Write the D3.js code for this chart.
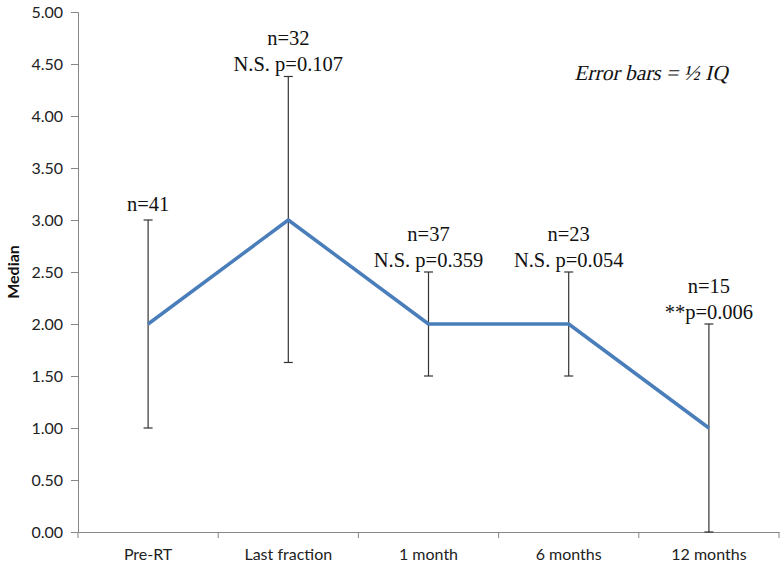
<!DOCTYPE html>
<html>
<head>
<meta charset="utf-8">
<script src="https://cdn.jsdelivr.net/npm/d3@7"></script>
<style>
  body { margin: 0; background: #fff; }
  svg { display: block; }
</style>
</head>
<body>
<svg id="chart" width="784" height="566"></svg>
<script>
const categories = ["Pre-RT", "Last fraction", "1 month", "6 months", "12 months"];
const medians = [2.0, 3.0, 2.0, 2.0, 1.0];
const errLow = [1.0, 1.63, 1.5, 1.5, 0.0];
const errHigh = [3.0, 4.38, 2.5, 2.5, 2.0];
const nLabels = ["n=41", "n=32", "n=37", "n=23", "n=15"];
const pLabels = ["", "N.S. p=0.107", "N.S. p=0.359", "N.S. p=0.054", "**p=0.006"];
const yTicks = [0, 0.5, 1, 1.5, 2, 2.5, 3, 3.5, 4, 4.5, 5];

const svg = d3.select("#chart");
const mLeft = 78, mRight = 779, mTop = 12, mBottom = 532;

const x = d3.scaleBand().domain(categories).range([mLeft, mRight]).paddingInner(0).paddingOuter(0);
const y = d3.scaleLinear().domain([0, 5]).range([mBottom, mTop]);
const cx = c => x(c) + x.bandwidth() / 2;

const axisColor = "#868686";
const tickFont = "Lato, 'Liberation Sans', sans-serif";

// Y axis
const yAxis = d3.axisLeft(y).tickValues(yTicks).tickFormat(d3.format(".2f")).tickSize(7).tickPadding(8);
const gy = svg.append("g").attr("transform", `translate(${mLeft},0)`).call(yAxis);
gy.select(".domain").attr("stroke", axisColor);
gy.selectAll(".tick line").attr("stroke", axisColor);
gy.selectAll(".tick text").attr("fill", "#222").style("font-family", tickFont).style("font-size", "16px");

// X axis
const xAxis = d3.axisBottom(x).tickSize(0).tickPadding(17);
const gx = svg.append("g").attr("transform", `translate(0,${mBottom})`).call(xAxis);
gx.select(".domain").attr("stroke", axisColor);
gx.selectAll(".tick text").attr("fill", "#222").style("font-family", tickFont).style("font-size", "16px");
const bounds = categories.map(c => x(c)).concat([mRight]);
gx.selectAll("line.bound").data(bounds).enter().append("line")
  .attr("class", "bound")
  .attr("x1", d => d).attr("x2", d => d)
  .attr("y1", 0).attr("y2", 6)
  .attr("stroke", axisColor);

// Y axis title
svg.append("text")
  .attr("transform", `translate(19,${(mTop + mBottom) / 2}) rotate(-90)`)
  .attr("text-anchor", "middle")
  .style("font-family", tickFont)
  .style("font-weight", "bold")
  .style("font-size", "16px")
  .attr("fill", "#111")
  .text("Median");

// Error bars
const eb = svg.append("g").attr("stroke", "#333").attr("stroke-width", 1.2);
categories.forEach((c, i) => {
  const xc = cx(c);
  eb.append("line").attr("x1", xc).attr("x2", xc).attr("y1", y(errLow[i])).attr("y2", y(errHigh[i]));
  eb.append("line").attr("x1", xc - 4.5).attr("x2", xc + 4.5).attr("y1", y(errLow[i])).attr("y2", y(errLow[i]));
  eb.append("line").attr("x1", xc - 4.5).attr("x2", xc + 4.5).attr("y1", y(errHigh[i])).attr("y2", y(errHigh[i]));
});

// Line
const line = d3.line().x((d, i) => cx(categories[i])).y(d => y(d));
svg.append("path").datum(medians)
  .attr("d", line)
  .attr("fill", "none")
  .attr("stroke", "#4a7ebb")
  .attr("stroke-width", 3.5)
  .attr("stroke-linejoin", "round");

// Labels
const serif = "'Liberation Serif', 'Times New Roman', serif";
categories.forEach((c, i) => {
  const xc = cx(c);
  const yTopV = y(errHigh[i]);
  if (pLabels[i]) {
    svg.append("text").attr("x", xc).attr("y", yTopV - 5).attr("text-anchor", "middle")
      .style("font-family", serif).style("font-size", "20.5px").attr("fill", "#111").text(pLabels[i]);
    svg.append("text").attr("x", xc).attr("y", yTopV - 31).attr("text-anchor", "middle")
      .style("font-family", serif).style("font-size", "20.5px").attr("fill", "#111").text(nLabels[i]);
  } else {
    svg.append("text").attr("x", xc).attr("y", yTopV - 9).attr("text-anchor", "middle")
      .style("font-family", serif).style("font-size", "20.5px").attr("fill", "#111").text(nLabels[i]);
  }
});

// Annotation (serif, slanted)
svg.append("text")
  .attr("transform", "translate(651,80) skewX(-13)")
  .attr("text-anchor", "middle")
  .style("font-family", serif).style("font-size", "21.5px")
  .attr("fill", "#111").text("Error bars = \u00BD IQ");
</script>
</body>
</html>
